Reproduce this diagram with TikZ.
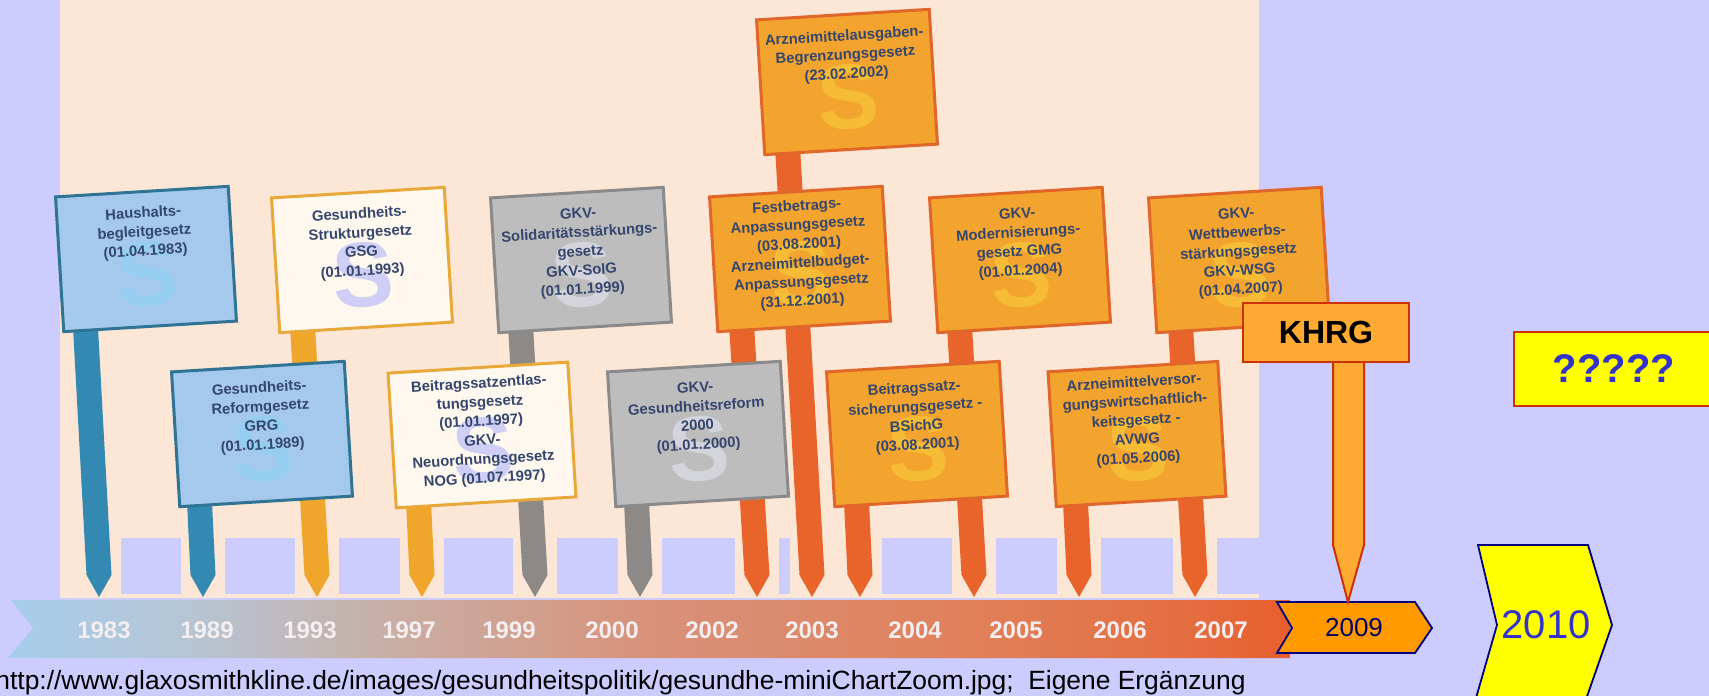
\documentclass[tikz,border=0pt]{standalone}
\usepackage{fontspec}
\setmainfont{Liberation Sans}
\setsansfont{Liberation Sans}
\usetikzlibrary{calc}
\definecolor{bg}{HTML}{CCCCFF}
\definecolor{peach}{HTML}{FCE6D6}
\definecolor{blueF}{HTML}{A5C9EC}
\definecolor{blueD}{HTML}{2F7395}
\definecolor{blueS}{HTML}{95CEF0}
\definecolor{creamF}{HTML}{FFF8EE}
\definecolor{creamD}{HTML}{E9A93A}
\definecolor{creamS}{HTML}{CFCFF5}
\definecolor{grayF}{HTML}{BDBDBD}
\definecolor{grayD}{HTML}{8A8A8A}
\definecolor{grayS}{HTML}{D4D4DC}
\definecolor{oranF}{HTML}{F2A42E}
\definecolor{oranD}{HTML}{E0662A}
\definecolor{oranS}{HTML}{F6BC36}
\definecolor{poleTeal}{HTML}{3489B3}
\definecolor{poleOr}{HTML}{F0A52B}
\definecolor{poleGray}{HTML}{8D8986}
\definecolor{poleRed}{HTML}{E8642B}
\definecolor{boardtxt}{HTML}{34466E}
\definecolor{yeartxt}{HTML}{F4EEF0}
\definecolor{khrgF}{HTML}{FFAA33}
\definecolor{khrgD}{HTML}{CC3300}
\definecolor{chevA}{HTML}{FF9900}
\definecolor{chevD}{HTML}{000080}
\definecolor{yel}{HTML}{FFFF00}
\definecolor{qblue}{HTML}{3333CC}
\definecolor{txt09}{HTML}{000066}
\definecolor{barA}{HTML}{A7CDEB}
\definecolor{barB}{HTML}{B6C4D2}
\definecolor{barC}{HTML}{C9AEA4}
\definecolor{barD}{HTML}{D8927A}
\definecolor{barE}{HTML}{E0805A}
\definecolor{barF}{HTML}{E46E40}
\definecolor{barG}{HTML}{E85E2C}
\pgfdeclarehorizontalshading{barshade}{100bp}{color(0bp)=(barA); color(25bp)=(barA); color(32.5bp)=(barB); color(40bp)=(barC); color(50bp)=(barD); color(62.5bp)=(barE); color(71bp)=(barF); color(75bp)=(barG); color(100bp)=(barG)}
\newcommand\signpole[4]{%
  \fill[#4] (#1-12.5,#2) -- (#1+12.5,#2) -- (#3+12.5,575) -- (#3,597) -- (#3-12.5,575) -- cycle;}
\newcommand\sboard[6]{%
  \node[#3] (#1) at (#2) {};
  \node[wmark, text=#4] at ($(#1.center)!0.22!(#1.south)$) {S};
  \node[btext] at ($(#1.north)!#5!(#1.south)$) {#6};}
\begin{document}
\begin{tikzpicture}[x=0.5pt,y=-0.5pt,
  board/.style={draw, line width=1.5pt, minimum width=86.5pt, minimum height=67.5pt, rotate=3.5, inner sep=0pt},
  bBlue/.style={board, fill=blueF, draw=blueD},
  bCream/.style={board, fill=creamF, draw=creamD},
  bGray/.style={board, fill=grayF, draw=grayD},
  bOran/.style={board, fill=oranF, draw=oranD},
  btext/.style={rotate=3.5, anchor=north, align=center, inner sep=0pt, text=boardtxt,
    font=\fontsize{7.4}{9.5}\selectfont\bfseries},
  wmark/.style={rotate=3.5, inner sep=0pt, font=\fontsize{46}{46}\selectfont\bfseries},
  yearlbl/.style={text=yeartxt, font=\fontsize{12}{12}\selectfont\bfseries, inner sep=0pt},
  khrgbox/.style={fill=khrgF, draw=khrgD, line width=1.2pt, minimum width=83pt, minimum height=29.5pt, inner sep=0pt, font=\fontsize{16}{16}\selectfont\bfseries},
  qbox/.style={fill=yel, draw=khrgD, line width=1.2pt, minimum width=103pt, minimum height=37pt, inner sep=0pt},
  chev/.style={draw=chevD, line width=0.9pt}
]
\useasboundingbox (0,0) rectangle (1709,696);
\clip (0,0) rectangle (1709,696);
\fill[bg] (0,0) rectangle (1709,696);
% chart panel
\fill[peach] (60,0) rectangle (1259,598);
\foreach \a/\b in {99/203, 203/317, 317/422, 422/535, 535/640, 640/757, 757/812, 860/974, 974/1079, 1079/1195, 1195/1300}
  \fill[bg] (\a+22,538) rectangle (\b-22,594);
% timeline bar
\path[shading=barshade] (11,600) -- (1290,600) -- (1290,658) -- (8,658) -- (33,628) -- cycle;
\foreach \yr/\x in {1983/104, 1989/207, 1993/310, 1997/409, 1999/509, 2000/612, 2002/712, 2003/812, 2004/915, 2005/1016, 2006/1120, 2007/1221}
  \node[yearlbl] (y\yr) at (\x,630) {\yr};
% poles
\signpole{84}{300}{99}{poleTeal}
\signpole{301}{300}{317}{poleOr}
\signpole{197}{450}{203}{poleTeal}
\signpole{416}{450}{422}{poleOr}
\signpole{519}{300}{535}{poleGray}
\signpole{634}{450}{640}{poleGray}
\signpole{740}{300}{757}{poleRed}
\signpole{786}{120}{812}{poleRed}
\signpole{958}{300}{974}{poleRed}
\signpole{854}{450}{860}{poleRed}
\signpole{1179}{300}{1195}{poleRed}
\signpole{1073}{450}{1079}{poleRed}
% boards
\sboard{A}{146,259}{bBlue}{blueS}{0.12}{Haushalts-\\begleitgesetz\\(01.04.1983)}
\sboard{B}{362,260}{bCream}{creamS}{0.12}{Gesundheits-\\Strukturgesetz\\GSG\\(01.01.1993)}
\sboard{E}{581,260}{bGray}{grayS}{0.12}{GKV-\\Solidaritätsstärkungs-\\gesetz\\GKV-SolG\\(01.01.1999)}
\sboard{H}{847,82}{bOran}{oranS}{0.12}{Arzneimittelausgaben-\\Begrenzungsgesetz\\(23.02.2002)}
\sboard{G}{800,259}{bOran}{oranS}{0.07}{Festbetrags-\\Anpassungsgesetz\\(03.08.2001)\\Arzneimittelbudget-\\Anpassungsgesetz\\(31.12.2001)}
\sboard{I}{1020,260}{bOran}{oranS}{0.12}{GKV-\\Modernisierungs-\\gesetz GMG\\(01.01.2004)}
\sboard{K}{1239,260}{bOran}{oranS}{0.12}{GKV-\\Wettbewerbs-\\stärkungsgesetz\\GKV-WSG\\(01.04.2007)}
\sboard{C}{262,434}{bBlue}{blueS}{0.12}{Gesundheits-\\Reformgesetz\\GRG\\(01.01.1989)}
\sboard{D}{482,435}{bCream,minimum width=90pt}{creamS}{0.08}{Beitragssatzentlas-\\tungsgesetz\\(01.01.1997)\\GKV-\\Neuordnungsgesetz\\NOG (01.07.1997)}
\sboard{F}{698,434}{bGray}{grayS}{0.12}{GKV-\\Gesundheitsreform\\2000\\(01.01.2000)}
\sboard{J}{917,434}{bOran}{oranS}{0.12}{Beitragssatz-\\sicherungsgesetz -\\BSichG\\(03.08.2001)}
\sboard{L}{1137,434}{bOran,minimum width=85pt}{oranS}{0.08}{Arzneimittelversor-\\gungswirtschaftlich-\\keitsgesetz -\\AVWG\\(01.05.2006)}
% 2009 chevron
\draw[chev, fill=chevA] (1277,602) -- (1415,602) -- (1432,628) -- (1415,653) -- (1277,653) -- (1292,628) -- cycle;
\node[text=txt09, font=\fontsize{13}{13}\selectfont, inner sep=0pt] (y2009) at (1354,628) {2009};
% KHRG sign
\coordinate (khrgtip) at (1348,602);
\draw[fill=khrgF, draw=khrgD, line width=1pt] (1333,350) -- (1333,545) -- (khrgtip) -- (1364,545) -- (1364,350);
\node[khrgbox] (khrg) at (1326,332.5) {KHRG};
% 2010 chevron
\draw[chev, fill=yel] (1478,545) -- (1588,545) -- (1612,625) -- (1584,705) -- (1474,705) -- (1497,625) -- cycle;
\node[text=qblue, font=\fontsize{20}{20}\selectfont, inner sep=0pt] (y2010) at (1546,625) {2010};
% ????? box
\node[qbox] (q) at (1617,369) {};
\node[text=qblue, font=\fontsize{20}{20}\selectfont\bfseries, inner sep=0pt] (qt) at (1614,369) {?????};
% source line
\node[anchor=base west, inner sep=0pt, font=\fontsize{13.2}{14}\selectfont] (src) at (-5,689) {http://www.glaxosmithkline.de/images/gesundheitspolitik/gesundhe-miniChartZoom.jpg;\ \ Eigene Ergänzung};
\end{tikzpicture}
\end{document}
